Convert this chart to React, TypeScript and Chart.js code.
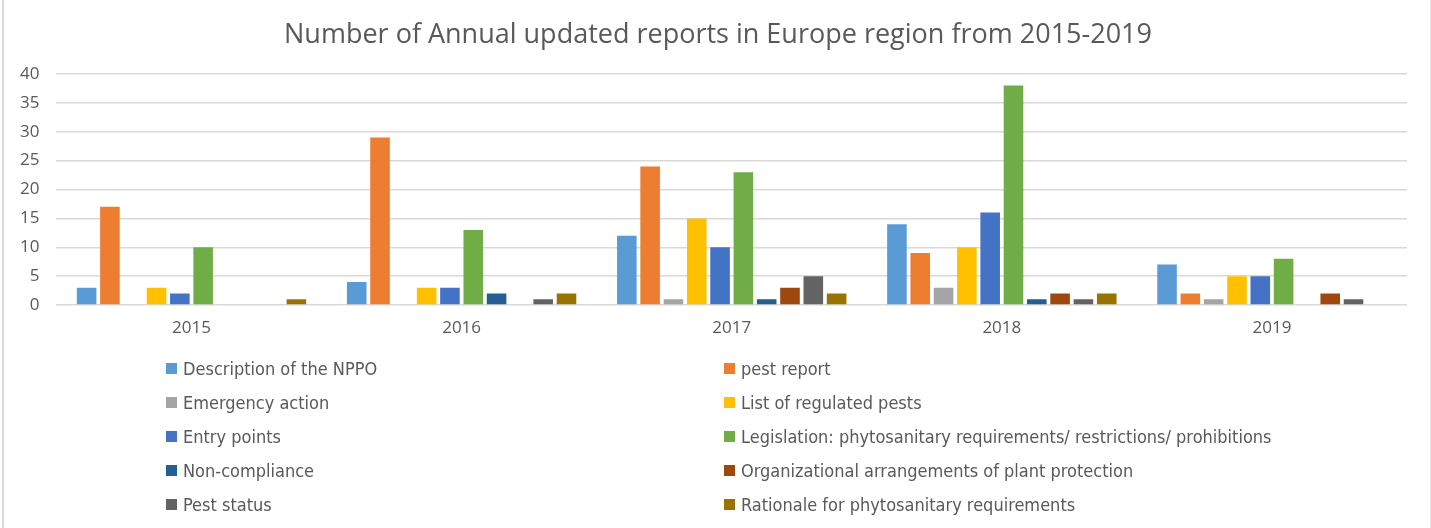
import React, { useEffect, useRef } from "react";
import { Chart, registerables } from "chart.js";

Chart.register(...registerables);

const TITLE = "Number of Annual updated reports in Europe region from 2015-2019";
const CATEGORIES = ["2015", "2016", "2017", "2018", "2019"];
const SERIES_NAMES = [
  "Description of the NPPO",
  "pest report",
  "Emergency action",
  "List of regulated pests",
  "Entry points",
  "Legislation: phytosanitary requirements/ restrictions/ prohibitions",
  "Non-compliance",
  "Organizational arrangements of plant protection",
  "Pest status",
  "Rationale for phytosanitary requirements",
];
const SERIES_COLORS = [
  "#5B9BD5",
  "#ED7D31",
  "#A5A5A5",
  "#FFC000",
  "#4472C4",
  "#70AD47",
  "#255E91",
  "#9E480E",
  "#636363",
  "#997300",
];
const DESCRIPTION_NPPO = [3, 4, 12, 14, 7];
const PEST_REPORT = [17, 29, 24, 9, 2];
const EMERGENCY_ACTION = [0, 0, 1, 3, 1];
const LIST_REGULATED = [3, 3, 15, 10, 5];
const ENTRY_POINTS = [2, 3, 10, 16, 5];
const LEGISLATION = [10, 13, 23, 38, 8];
const NON_COMPLIANCE = [0, 2, 1, 1, 0];
const ORGANIZATIONAL = [0, 0, 3, 2, 2];
const PEST_STATUS = [0, 1, 5, 1, 1];
const RATIONALE = [1, 2, 2, 2, 0];
const SERIES_VALUES = [
  DESCRIPTION_NPPO,
  PEST_REPORT,
  EMERGENCY_ACTION,
  LIST_REGULATED,
  ENTRY_POINTS,
  LEGISLATION,
  NON_COMPLIANCE,
  ORGANIZATIONAL,
  PEST_STATUS,
  RATIONALE,
];
const Y_MAX = 40;
const Y_STEP = 5;

const TEXT_COLOR = "#595959";
const GRID_COLOR = "#d9d9d9";
const AXIS_FONT = "'Open Sans', 'Noto Sans', sans-serif";
const LEGEND_FONT = "'Liberation Sans Narrow', 'DejaVu Sans Condensed', 'Noto Sans', sans-serif";

export default function App() {
  const canvasRef = useRef<HTMLCanvasElement | null>(null);

  useEffect(() => {
    if (!canvasRef.current) return;
    const chart = new Chart(canvasRef.current, {
      type: "bar",
      data: {
        labels: CATEGORIES,
        datasets: SERIES_NAMES.map((name, i) => ({
          label: name,
          data: SERIES_VALUES[i],
          backgroundColor: SERIES_COLORS[i],
          borderWidth: 0,
          categoryPercentage: 0.863,
          barPercentage: 0.84,
        })),
      },
      options: {
        animation: false,
        responsive: false,
        maintainAspectRatio: false,
        layout: { padding: { left: 3, right: 24, top: 74, bottom: 8.6 } },
        plugins: {
          legend: { display: false },
          tooltip: { enabled: false },
          title: { display: false },
        },
        scales: {
          x: {
            grid: { display: false, drawTicks: false },
            border: { display: false },
            ticks: {
              color: TEXT_COLOR,
              font: { family: AXIS_FONT, size: 17 },
              padding: 13,
            },
          },
          y: {
            min: 0,
            max: Y_MAX,
            grid: { color: GRID_COLOR, lineWidth: 1.5, drawTicks: false },
            border: { display: false },
            ticks: {
              stepSize: Y_STEP,
              color: TEXT_COLOR,
              font: { family: AXIS_FONT, size: 17 },
              padding: 17,
            },
          },
        },
      },
    });
    return () => chart.destroy();
  }, []);

  const rowsY = [368, 402, 436, 470, 504];

  return (
    <div
      style={{
        position: "absolute",
        left: 0,
        top: 0,
        width: 1431,
        height: 528,
        background: "#fff",
        overflow: "hidden",
      }}
    >
      <canvas
        ref={canvasRef}
        width={1431}
        height={360}
        style={{ position: "absolute", left: 0, top: 0, width: 1431, height: 360 }}
      />
      <div
        style={{
          position: "absolute",
          left: 0,
          top: 17,
          width: 1436,
          height: 32,
          lineHeight: "32px",
          textAlign: "center",
          whiteSpace: "nowrap",
          fontFamily: AXIS_FONT,
          fontSize: 27,
          color: TEXT_COLOR,
        }}
      >
        {TITLE}
      </div>
      <div
        style={{
          position: "absolute",
          left: 2,
          top: -3,
          width: 1426,
          height: 540,
          borderLeft: "2px solid #d9d9d9",
          borderRight: "1px solid #e8e8e8",
          pointerEvents: "none",
        }}
      />
      {SERIES_NAMES.map((name, i) => {
        const col = i % 2;
        const row = Math.floor(i / 2);
        const x = col === 0 ? 166 : 724;
        const y = rowsY[row];
        return (
          <div
            key={name}
            style={{
              position: "absolute",
              left: x,
              top: y - 12,
              height: 24,
              display: "flex",
              alignItems: "center",
              whiteSpace: "nowrap",
              fontFamily: LEGEND_FONT,
              fontSize: 18,
              color: TEXT_COLOR,
            }}
          >
            <span
              style={{
                display: "inline-block",
                width: 11,
                height: 11,
                background: SERIES_COLORS[i],
                marginRight: 6,
              }}
            />
            <span>{name}</span>
          </div>
        );
      })}
    </div>
  );
}
